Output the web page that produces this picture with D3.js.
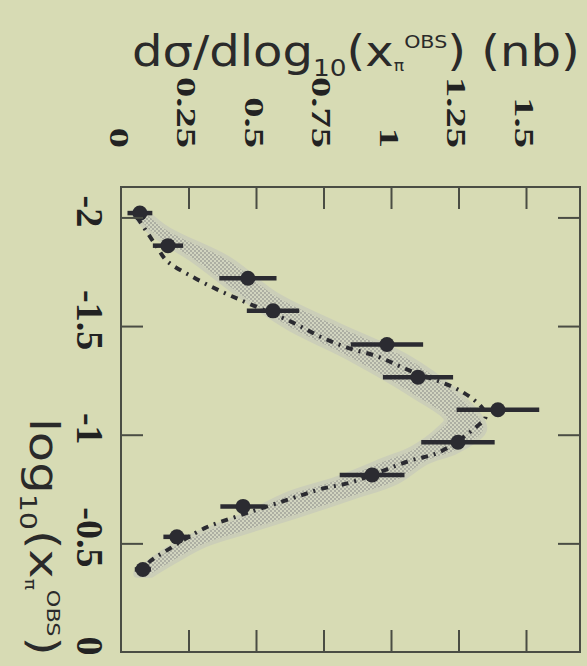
<!DOCTYPE html>
<html>
<head>
<meta charset="utf-8">
<script src="https://cdn.jsdelivr.net/npm/d3@7.9.0/dist/d3.min.js"></script>
<style>
  html, body { margin: 0; padding: 0; background: #d7dbb4; }
  svg { display: block; }
</style>
</head>
<body>
<svg id="chart" width="587" height="666"></svg>
<script>
// ----- data -----
const logTicks = [-2, -1.5, -1, -0.5, 0];
const logTickLabels = ["-2", "-1.5", "-1", "-0.5", "0"];
const valTicks = [0, 0.25, 0.5, 0.75, 1, 1.25, 1.5];
const valTickLabels = ["0", "0.25", "0.5", "0.75", "1", "1.25", "1.5"];

// measured points: log10(x) bin centre, dsigma value, error
const dataLogX = [-2.02, -1.87, -1.72, -1.57, -1.415, -1.265, -1.115, -0.965, -0.815, -0.67, -0.53, -0.38];
const dataVal  = [0.070, 0.174, 0.470, 0.563, 0.985, 1.10, 1.396, 1.248, 0.93, 0.452, 0.207, 0.081];
const dataErr  = [0.046, 0.056, 0.106, 0.097, 0.134, 0.13, 0.153, 0.136, 0.12, 0.084, 0.05, 0.03];

// shaded band
const bandLogX = [-2.02, -1.94, -1.80, -1.64, -1.50, -1.35, -1.19, -1.07, -1.02, -0.93, -0.88, -0.79, -0.72, -0.63, -0.56, -0.50, -0.42, -0.36];
const bandLo   = [0.05, 0.11, 0.28, 0.45, 0.62, 0.86, 1.08, 1.21, 1.18, 1.08, 0.98, 0.80, 0.62, 0.47, 0.33, 0.22, 0.12, 0.06];
const bandHi   = [0.09, 0.17, 0.40, 0.57, 0.80, 1.06, 1.24, 1.33, 1.34, 1.24, 1.13, 1.02, 0.86, 0.64, 0.46, 0.31, 0.19, 0.11];

// dash-dot curve
const curveLogX = [-2.0, -1.87, -1.80, -1.73, -1.66, -1.60, -1.52, -1.45, -1.40, -1.36, -1.30, -1.20, -1.12, -1.08, -1.04, -0.92, -0.88, -0.78, -0.75, -0.71, -0.62, -0.57, -0.46, -0.42, -0.37];
const curveVal  = [0.06, 0.13, 0.17, 0.26, 0.37, 0.48, 0.63, 0.74, 0.84, 0.95, 1.06, 1.26, 1.34, 1.35, 1.32, 1.18, 1.07, 0.85, 0.74, 0.64, 0.42, 0.31, 0.16, 0.11, 0.07];

// ----- layout (the plot is turned a quarter turn clockwise) -----
const svg = d3.select('#chart');
const ink = '#2b2b31';

const frameL = 121, frameR = 580, frameT = 187, frameB = 652;
const xv = d3.scaleLinear().domain([0, 1.7]).range([frameL, frameR]);     // value axis, horizontal
const yl = d3.scaleLinear().domain([-2.14, 0]).range([frameT, frameB]);   // log axis, vertical

svg.append('rect').attr('width', 587).attr('height', 666).attr('fill', '#d7dbb4');

// pattern for the band
const defs = svg.append('defs');
const pat = defs.append('pattern')
  .attr('id', 'dots').attr('width', 4).attr('height', 4)
  .attr('patternUnits', 'userSpaceOnUse');
pat.append('rect').attr('width', 4).attr('height', 4).attr('fill', '#d2d5c0');
pat.append('circle').attr('cx', 1).attr('cy', 1).attr('r', 0.9).attr('fill', '#9b9d95');
pat.append('circle').attr('cx', 3).attr('cy', 3).attr('r', 0.9).attr('fill', '#9b9d95');

// band
const bandData = bandLogX.map((v, i) => ({ l: v, lo: bandLo[i], hi: bandHi[i] }));
const area = d3.area()
  .y(d => yl(d.l))
  .x0(d => xv(d.lo))
  .x1(d => xv(d.hi))
  .curve(d3.curveCatmullRom);
svg.append('path').datum(bandData)
  .attr('d', area)
  .attr('fill', 'none')
  .attr('stroke', '#cbceb8')
  .attr('stroke-width', 8)
  .attr('stroke-linejoin', 'round');
svg.append('path').datum(bandData)
  .attr('d', area)
  .attr('fill', 'url(#dots)');

// dash-dot curve
const curveData = curveLogX.map((v, i) => ({ l: v, v: curveVal[i] }));
svg.append('path').datum(curveData)
  .attr('d', d3.line().y(d => yl(d.l)).x(d => xv(d.v)).curve(d3.curveCatmullRom))
  .attr('fill', 'none')
  .attr('stroke', ink)
  .attr('stroke-width', 4)
  .attr('stroke-dasharray', '7,6,2,6');

// error bars + points
const pts = dataLogX.map((v, i) => ({ l: v, v: dataVal[i], e: dataErr[i] }));
svg.append('g').selectAll('line').data(pts).join('line')
  .attr('x1', d => xv(d.v - d.e)).attr('x2', d => xv(d.v + d.e))
  .attr('y1', d => yl(d.l)).attr('y2', d => yl(d.l))
  .attr('stroke', ink).attr('stroke-width', 4.5);
svg.append('g').selectAll('circle').data(pts).join('circle')
  .attr('cx', d => xv(d.v)).attr('cy', d => yl(d.l)).attr('r', 7.5)
  .attr('fill', ink);

// frame and inward ticks, via d3 axes
const tickLen = 22;
const frameCol = '#4a4d44';
function styleAxis(g) {
  g.select('.domain').remove();
  g.selectAll('.tick line').attr('stroke', frameCol).attr('stroke-width', 2);
  g.selectAll('.tick text').remove();
}
const innerVal = valTicks.slice(1);
const innerLog = logTicks.slice(0, -1);
svg.append('g').attr('transform', `translate(0,${frameT})`)
  .call(d3.axisTop(xv).tickValues(innerVal).tickSize(-tickLen)).call(styleAxis);
svg.append('g').attr('transform', `translate(0,${frameB})`)
  .call(d3.axisBottom(xv).tickValues(innerVal).tickSize(-tickLen)).call(styleAxis);
svg.append('g').attr('transform', `translate(${frameL},0)`)
  .call(d3.axisLeft(yl).tickValues(innerLog).tickSize(-tickLen)).call(styleAxis);
svg.append('g').attr('transform', `translate(${frameR},0)`)
  .call(d3.axisRight(yl).tickValues(innerLog).tickSize(-tickLen)).call(styleAxis);
svg.append('rect')
  .attr('x', frameL).attr('y', frameT)
  .attr('width', frameR - frameL).attr('height', frameB - frameT)
  .attr('fill', 'none').attr('stroke', frameCol).attr('stroke-width', 2);

// tick labels (turned, reading top to bottom)
const serif = "'Liberation Serif', 'Times New Roman', serif";
svg.append('g').selectAll('text').data(valTicks).join('text')
  .attr('transform', d => `translate(${xv(d) - 2},148) rotate(90) scale(1.45,1)`)
  .attr('text-anchor', 'end')
  .attr('dominant-baseline', 'central')
  .attr('font-family', serif).attr('font-weight', 'bold')
  .attr('font-size', 28).attr('fill', '#222')
  .text((d, i) => valTickLabels[i]);

svg.append('g').selectAll('text').data(logTicks).join('text')
  .attr('transform', d => `translate(90,${yl(d) - 6}) rotate(90)`)
  .attr('text-anchor', 'middle')
  .attr('dominant-baseline', 'central')
  .attr('font-family', serif).attr('font-weight', 'bold')
  .attr('font-size', 38).attr('fill', '#222')
  .text((d, i) => logTickLabels[i]);

// axis titles
const sans = "'DejaVu Sans', 'Noto Sans', sans-serif";
const titleTop = svg.append('text').attr('x', 0).attr('y', 0)
  .attr('font-family', sans).attr('fill', '#2a2a2a').attr('font-size', 42);
titleTop.append('tspan').text('dσ/dlog');
titleTop.append('tspan').attr('font-size', 23).attr('dy', 10).text('10');
titleTop.append('tspan').attr('dy', -10).text('(x');
titleTop.append('tspan').attr('font-size', 15).attr('dy', 5).text('π');
titleTop.append('tspan').attr('font-size', 18).attr('dy', -23).text('OBS');
titleTop.append('tspan').attr('dy', 18).text(') (nb)');
{
  const w = titleTop.node().getComputedTextLength();
  titleTop.attr('transform', `translate(132,66) scale(${448 / w},1)`);
}

const titleLeft = svg.append('text').attr('x', 0).attr('y', 0)
  .attr('font-family', sans).attr('fill', '#2a2a2a').attr('font-size', 40);
titleLeft.append('tspan').text('log');
titleLeft.append('tspan').attr('font-size', 23).attr('dy', 10).text('10');
titleLeft.append('tspan').attr('dy', -10).text('(x');
titleLeft.append('tspan').attr('font-size', 15).attr('dy', 5).text('π');
titleLeft.append('tspan').attr('font-size', 18).attr('dy', -22).text('OBS');
titleLeft.append('tspan').attr('dy', 17).text(')');
{
  const w = titleLeft.node().getComputedTextLength();
  titleLeft.attr('transform', `translate(30,418) rotate(90) scale(${238 / w},1)`);
}
</script>
</body>
</html>
